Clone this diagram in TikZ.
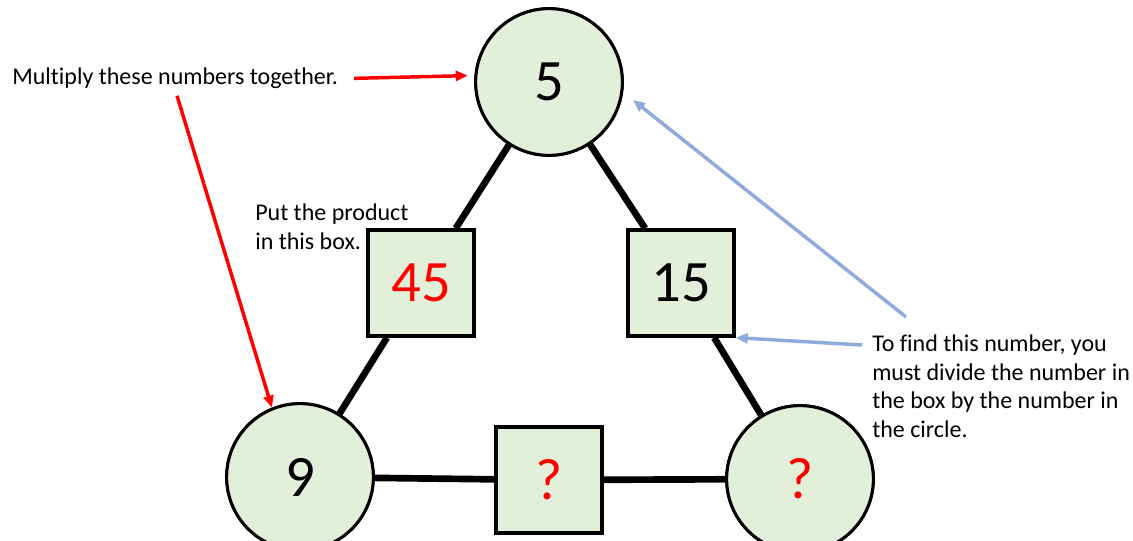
\documentclass[tikz,border=0pt]{standalone}
\usepackage{fontspec}
\setmainfont{Carlito}[Ligatures=NoCommon]
\usetikzlibrary{positioning, arrows.meta}
\definecolor{leaf}{HTML}{E2F0D9}
\definecolor{sky}{HTML}{8FAADC}

\begin{document}
\begin{tikzpicture}[>={Triangle[length=9pt,width=7.5pt]}, x=0.75pt, y=-0.75pt,
  ring/.style={circle, draw, line width=2.25pt, fill=leaf, minimum size=110pt, inner sep=0pt, font=\fontsize{44}{44}\selectfont},
  box/.style={rectangle, draw, line width=3pt, fill=leaf, minimum size=79pt, inner sep=0pt, font=\fontsize{44}{44}\selectfont},
  edge/.style={line width=5pt},
  note/.style={align=left, inner sep=0pt, font=\fontsize{18}{21.4}\selectfont},
  redarr/.style={->, red, line width=2.6pt},
  bluarr/.style={->, sky, line width=2.6pt}]
\useasboundingbox (0,0) rectangle (1133,541);
\node[ring](five) at (549,82){5};
\node[ring](nine) at (300,477){9};
\node[ring](qcirc) at (800,479){\textcolor{red}{?}};
\node[box](fortyfive) at (421,283){\textcolor{red}{45}};
\node[box](fifteen) at (681,283){15};
\node[box](qbox) at (549,480){\textcolor{red}{?}};
\draw[edge](five)--(fortyfive)--(nine);
\draw[edge](five)--(fifteen)--(qcirc);
\draw[edge](nine)--(qbox)--(qcirc);
\node[box] at (fortyfive){\textcolor{red}{45}};
\node[box] at (fifteen){15};
\node[box] at (qbox){\textcolor{red}{?}};
\node[ring] at (five){5};
\node[ring] at (nine){9};
\node[ring] at (qcirc){\textcolor{red}{?}};
\node[note, anchor=base west](mult) at (12,85){Multiply these numbers together.};
\node[note, anchor=north west](put) at (255,204){Put the product\\in this box.};
\node[note, anchor=north west](find) at (872,335){To find this number, you\\must divide the number in\\the box by the number in\\the circle.};
\coordinate (tail) at (906,317);
\coordinate (tip) at (633,100);
\coordinate (tail2) at (862,345);
\draw[redarr, shorten <=12pt, shorten >=5pt](mult.east)--(five.175);
\draw[redarr, shorten <=5pt](mult.south)--(nine.112);
\draw[bluarr](tail)--(tip);
\draw[bluarr](tail2)--(fifteen.south east);
\end{tikzpicture}
\end{document}
